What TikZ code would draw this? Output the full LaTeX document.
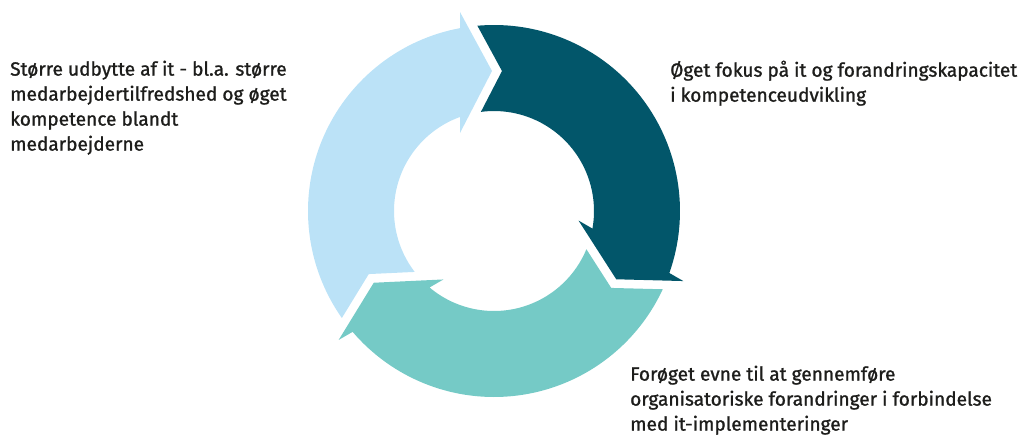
\documentclass[tikz,border=0pt]{standalone}
\usepackage{fontspec}
\newfontfamily\lblfont{Fira Sans}[FakeBold=1.2]
\definecolor{cLight}{HTML}{BBE2F7}
\definecolor{cDark}{HTML}{02566A}
\definecolor{cTeal}{HTML}{75CAC6}
\definecolor{cText}{HTML}{1D1D1B}
\tikzset{
  cyclearrow/.pic={
    \fill[pic actions] (215.12:186pt) arc[start angle=215.12, end angle=100.53, radius=186pt]
      -- (-34,199) -- (-2,140) -- (-34,78) -- (109.88:100pt)
      arc[start angle=109.88, end angle=217.53, radius=100pt]
      -- (206.73:140.23pt) -- cycle;
  },
  lbl/.style={anchor=north west, inner sep=0pt, align=left, text=cText,
    font=\lblfont\fontsize{19.1pt}{25pt}\selectfont}
}
\begin{document}
\begin{tikzpicture}[x=1pt,y=1pt]
\useasboundingbox (0,0) rectangle (1034,-437);
\coordinate (C) at (494,-211);
\pic[fill=cLight] at (C) {cyclearrow};
\pic[fill=cDark, rotate=-120] at (C) {cyclearrow};
\pic[fill=cTeal, rotate=-240] at (C) {cyclearrow};
\node[lbl] (tl) at (10,-60.5) {Større udbytte af it - bl.a. større\\medarbejdertilfredshed og øget\\kompetence blandt\\medarbejderne};
\node[lbl] (tr) at (670,-60.5) {Øget fokus på it og forandringskapacitet\\i kompetenceudvikling};
\node[lbl] (br) at (630,-365.5) {Forøget evne til at gennemføre\\organisatoriske forandringer i forbindelse\\med it-implementeringer};
\end{tikzpicture}
\end{document}
